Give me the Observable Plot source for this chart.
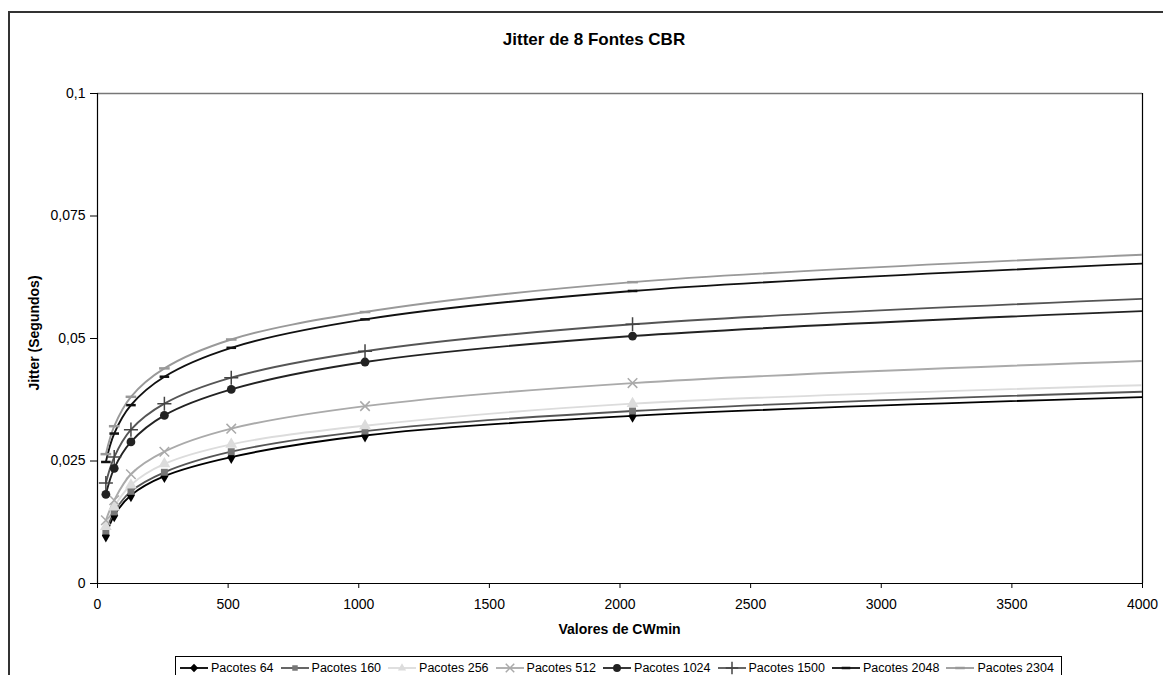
<!DOCTYPE html>
<html>
<head>
<meta charset="utf-8">
<script src="https://cdn.jsdelivr.net/npm/d3@7"></script>
<script src="https://cdn.jsdelivr.net/npm/@observablehq/plot@0.6"></script>
<style>
  html, body { margin: 0; padding: 0; background: #fff; }
  body { position: relative; width: 1163px; height: 675px; overflow: hidden; font-family: "Liberation Sans", Arial, sans-serif; color: #000; }
  #frame { position: absolute; left: 8px; top: 11px; width: 1200px; height: 720px; border-left: 2px solid #333; border-top: 2px solid #333; }
  #chart { position: absolute; left: 0; top: 0; }
  #chart svg text { font-size: 14px; fill: #000; }
  .lbl { position: absolute; font-weight: bold; white-space: nowrap; }
  #title { left: 0; width: 1188px; top: 30px; text-align: center; font-size: 17px; }
  #xlabel { left: 97px; width: 1045px; top: 621px; text-align: center; font-size: 14px; }
  #ylabel { left: 34px; top: 333px; transform: translate(-50%, -50%) rotate(-90deg); font-size: 14px; }
  #legend { position: absolute; left: 175px; top: 656px; width: 887px; height: 40px; border: 1px solid #000; display: flex; flex-wrap: nowrap; align-items: flex-start; padding-left: 4px; box-sizing: border-box; font-size: 12.5px; }
  .item { display: flex; flex: 0 0 auto; align-items: center; margin-right: 7px; height: 21px; white-space: nowrap; }
  .item svg { margin-right: 3px; flex: 0 0 auto; }
</style>
</head>
<body>
<div id="frame"></div>
<div id="chart"></div>
<div id="title" class="lbl">Jitter de 8 Fontes CBR</div>
<div id="xlabel" class="lbl">Valores de CWmin</div>
<div id="ylabel" class="lbl">Jitter (Segundos)</div>
<div id="legend"></div>
<script>
// ---- data ----
const cwmin = [32, 64, 128, 256, 512, 1024, 2048, 4096];
const seriesNames = ["Pacotes 64", "Pacotes 160", "Pacotes 256", "Pacotes 512", "Pacotes 1024", "Pacotes 1500", "Pacotes 2048", "Pacotes 2304"];
const pacotes64   = [0.0098, 0.0139, 0.0180, 0.0219, 0.0258, 0.0302, 0.0342, 0.0382];
const pacotes160  = [0.0107, 0.0146, 0.0188, 0.0227, 0.0269, 0.0311, 0.0352, 0.0393];
const pacotes256  = [0.0116, 0.0156, 0.0201, 0.0244, 0.0284, 0.0322, 0.0367, 0.0406];
const pacotes512  = [0.0129, 0.0170, 0.0223, 0.0269, 0.0316, 0.0362, 0.0409, 0.0456];
const pacotes1024 = [0.0182, 0.0235, 0.0289, 0.0343, 0.0396, 0.0452, 0.0505, 0.0558];
const pacotes1500 = [0.0205, 0.0258, 0.0314, 0.0367, 0.0420, 0.0474, 0.0529, 0.0583];
const pacotes2048 = [0.0248, 0.0306, 0.0364, 0.0422, 0.0481, 0.0539, 0.0597, 0.0655];
const pacotes2304 = [0.0264, 0.0321, 0.0381, 0.0439, 0.0498, 0.0554, 0.0615, 0.0673];
const yTicks = [0, 0.025, 0.05, 0.075, 0.1];
const xTicks = [0, 500, 1000, 1500, 2000, 2500, 3000, 3500, 4000];

const allValues = [pacotes64, pacotes160, pacotes256, pacotes512, pacotes1024, pacotes1500, pacotes2048, pacotes2304];

// ---- styles ----
const dash = { draw(ctx, size) { const w = Math.sqrt(size) * 0.6; ctx.moveTo(-w, 0); ctx.lineTo(w, 0); } };
const styles = [
  { line: "#000", symbol: "diamond", fill: "#000", stroke: "none", r: 4.2 },
  { line: "#555", symbol: "square", fill: "#777", stroke: "none", r: 3.9 },
  { line: "#dcdcdc", symbol: "triangle", fill: "#dcdcdc", stroke: "none", r: 4.4 },
  { line: "#aaa", symbol: "times", fill: "none", stroke: "#aaa", r: 4.4, sw: 1.5 },
  { line: "#222", symbol: "circle", fill: "#222", stroke: "none", r: 4.4 },
  { line: "#555", symbol: "plus", fill: "none", stroke: "#444", r: 4.6, sw: 1.5 },
  { line: "#111", symbol: dash, fill: "none", stroke: "#111", r: 4.5, sw: 2.5 },
  { line: "#999", symbol: dash, fill: "none", stroke: "#999", r: 5, sw: 2.5 }
];

const rows = [];
seriesNames.forEach((s, i) => cwmin.forEach((x, j) => rows.push({ series: s, x, y: allValues[i][j] })));

const fmt = d => String(d).replace(".", ",");

const marks = [];
seriesNames.forEach((s, i) => {
  const st = styles[i];
  const data = rows.filter(d => d.series === s);
  marks.push(Plot.line(data, { x: "x", y: "y", stroke: st.line, strokeWidth: 1.9, curve: "catmull-rom", clip: true }));
});
seriesNames.forEach((s, i) => {
  const st = styles[i];
  const data = rows.filter(d => d.series === s && d.x <= 4000);
  marks.push(Plot.dot(data, { x: "x", y: "y", symbol: () => st.symbol, r: st.r, fill: st.fill, stroke: st.stroke, strokeWidth: st.sw || 1 }));
});

const plot = Plot.plot({
  width: 1163,
  height: 675,
  marginLeft: 97,
  marginRight: 21,
  marginTop: 93,
  marginBottom: 92,
  style: { background: "transparent", color: "#000", fontFamily: "Liberation Sans, Arial, sans-serif", fontSize: "14px", overflow: "visible" },
  x: { domain: [0, 4000] },
  y: { domain: [0, 0.1] },
  symbol: { type: "identity" },
  marks: [
    Plot.ruleY([0.1], { stroke: "#777", strokeWidth: 1.5 }),
    Plot.ruleX([4000], { stroke: "#000", strokeWidth: 1.2 }),
    ...marks,
    Plot.ruleX([0], { stroke: "#000", strokeWidth: 1.2 }),
    Plot.ruleY([0], { stroke: "#000", strokeWidth: 1.2 }),
    Plot.axisY({ ticks: yTicks, tickFormat: fmt, tickSize: 7, tickPadding: 5, label: null }),
    Plot.axisX({ ticks: xTicks, tickFormat: d => String(d), tickSize: 5, tickPadding: 11, label: null })
  ]
});
document.getElementById("chart").appendChild(plot);

// ---- legend ----
const legend = document.getElementById("legend");
const symMap = { diamond: d3.symbolDiamond2, square: d3.symbolSquare2, triangle: d3.symbolTriangle2, times: d3.symbolTimes, circle: d3.symbolCircle, plus: d3.symbolPlus };
seriesNames.forEach((s, i) => {
  const st = styles[i];
  const item = document.createElement("div");
  item.className = "item";
  const sw = d3.create("svg").attr("width", 28).attr("height", 20);
  sw.append("line").attr("x1", 0).attr("x2", 28).attr("y1", 10).attr("y2", 10).attr("stroke", st.line).attr("stroke-width", 1.8);
  const sym = typeof st.symbol === "string" ? symMap[st.symbol] : st.symbol;
  const size = Math.PI * st.r * st.r * 0.8;
  sw.append("path").attr("transform", "translate(14,10)").attr("d", d3.symbol(sym, size)())
    .attr("fill", st.fill).attr("stroke", st.stroke).attr("stroke-width", st.sw || 1);
  item.appendChild(sw.node());
  const t = document.createElement("span");
  t.textContent = s;
  item.appendChild(t);
  legend.appendChild(item);
});
</script>
</body>
</html>
